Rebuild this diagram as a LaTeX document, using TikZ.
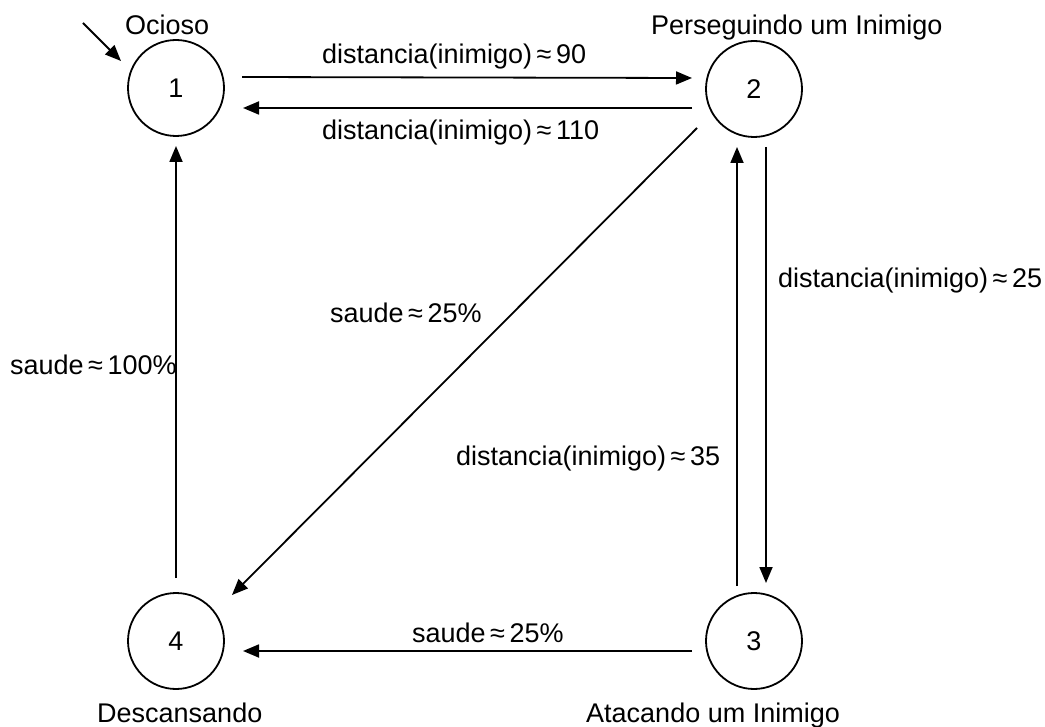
\documentclass[tikz,border=0pt]{standalone}
\usepackage{fontspec}
\setmainfont{Liberation Sans}
\usetikzlibrary{arrows.meta}
\begin{document}
\begin{tikzpicture}[x=1pt,y=-1pt,
  state/.style={circle,draw,line width=1.8pt,minimum size=96pt,inner sep=0pt,font=\fontsize{27}{31}\selectfont},
  arr/.style={line width=1.8pt,-{Triangle[length=16pt,width=13pt]}},
  lbl/.style={anchor=base west,inner sep=0pt,font=\fontsize{27}{31}\selectfont}]
\useasboundingbox (0,0) rectangle (1045,727);
\node[state] (n1) at (176,88) {1};
\node[state] (n2) at (754,89) {2};
\node[state] (n3) at (754,641) {3};
\node[state] (n4) at (176,641) {4};
\coordinate (init) at (83,23);
\draw[arr] (init) -- ([shift={(-55,-27)}]n1.center);
\node[lbl] (l1) at (125,35) {Ocioso};
\node[lbl] (l2) at (651,35) {Perseguindo um Inimigo};
\node[lbl] (l3) at (586,722) {Atacando um Inimigo};
\node[lbl] (l4) at (97,722) {Descansando};
\draw[arr] ([shift={(66,-11)}]n1.center) -- ([shift={(-62,-11)}]n2.center);
\draw[arr] ([shift={(-62,19)}]n2.center) -- ([shift={(67,20)}]n1.center);
\draw[arr] ([shift={(-57,39)}]n2.center) -- ([shift={(56,-46)}]n4.center);
\draw[arr] ([shift={(12,58)}]n2.center) -- ([shift={(12,-58)}]n3.center);
\draw[arr] ([shift={(-17,-55)}]n3.center) -- ([shift={(-17,58)}]n2.center);
\draw[arr] ([shift={(-62,10)}]n3.center) -- ([shift={(67,10)}]n4.center);
\draw[arr] ([shift={(0,-63)}]n4.center) -- ([shift={(0,58)}]n1.center);
\node[lbl] (e12) at (322,64) {distancia(inimigo)\,≈\,90};
\node[lbl] (e21) at (322,140) {distancia(inimigo)\,≈\,110};
\node[lbl] (e24) at (330,323) {saude\,≈\,25\%};
\node[lbl] (e41) at (10,375) {saude\,≈\,100\%};
\node[lbl] (e32) at (456,465) {distancia(inimigo)\,≈\,35};
\node[lbl] (e23) at (778,288) {distancia(inimigo)\,≈\,25};
\node[lbl] (e34) at (412,642) {saude\,≈\,25\%};
\end{tikzpicture}
\end{document}
